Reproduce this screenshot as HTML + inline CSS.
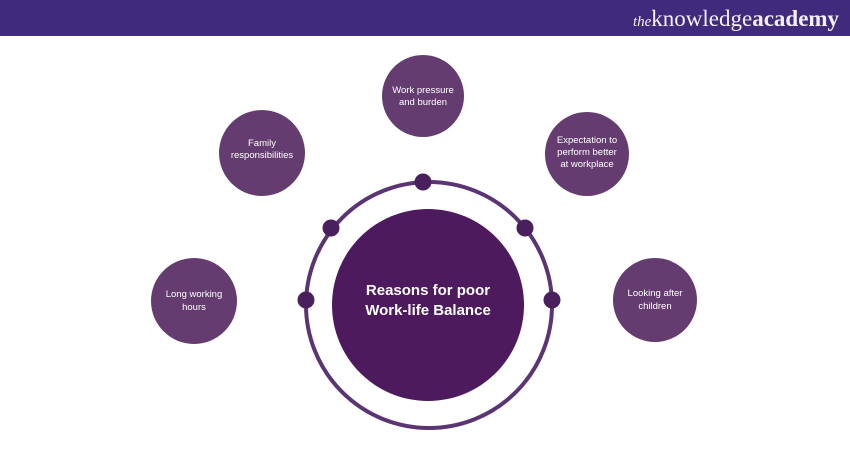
<!DOCTYPE html>
<html><head><meta charset="utf-8"><style>
html,body{margin:0;padding:0;background:#fff;}
svg{display:block;}
text{font-family:"Liberation Sans","DejaVu Sans",sans-serif;fill:#fff;text-anchor:middle;}
</style></head><body>
<svg width="850" height="450" viewBox="0 0 850 450" xmlns="http://www.w3.org/2000/svg">
<rect x="0" y="0" width="850" height="36" fill="#3f2a7c"/>
<text x="736" y="26" style="font-family:'Liberation Serif',serif;font-size:23px;fill:#f4f0fa"><tspan font-style="italic" font-size="15">the</tspan>knowledge<tspan font-weight="bold">academy</tspan></text>
<circle cx="429" cy="305" r="123" fill="none" stroke="#5b3573" stroke-width="4"/>
<g fill="#4a1f5e">
<circle cx="423" cy="182" r="8.5"/>
<circle cx="331" cy="228" r="8.5"/>
<circle cx="525" cy="228" r="8.5"/>
<circle cx="306" cy="300" r="8.5"/>
<circle cx="552" cy="300" r="8.5"/>
</g>
<circle cx="428" cy="305" r="96" fill="#4d1a5e"/>
<text x="428" y="295" font-size="15" font-weight="bold">Reasons for poor</text>
<text x="428" y="315" font-size="15" font-weight="bold">Work-life Balance</text>
<g fill="#653c70">
<circle cx="423" cy="96" r="41"/>
<circle cx="262" cy="153" r="43"/>
<circle cx="587" cy="154" r="42"/>
<circle cx="194" cy="301" r="43"/>
<circle cx="655" cy="300" r="42"/>
</g>
<g font-size="9.5">
<text x="423" y="93">Work pressure</text><text x="423" y="105">and burden</text>
<text x="262" y="146">Family</text><text x="262" y="158">responsibilities</text>
<text x="587" y="143">Expectation to</text><text x="587" y="155">perform better</text><text x="587" y="167">at workplace</text>
<text x="194" y="297">Long working</text><text x="194" y="310">hours</text>
<text x="655" y="296">Looking after</text><text x="655" y="309">children</text>
</g>
</svg>
</body></html>
